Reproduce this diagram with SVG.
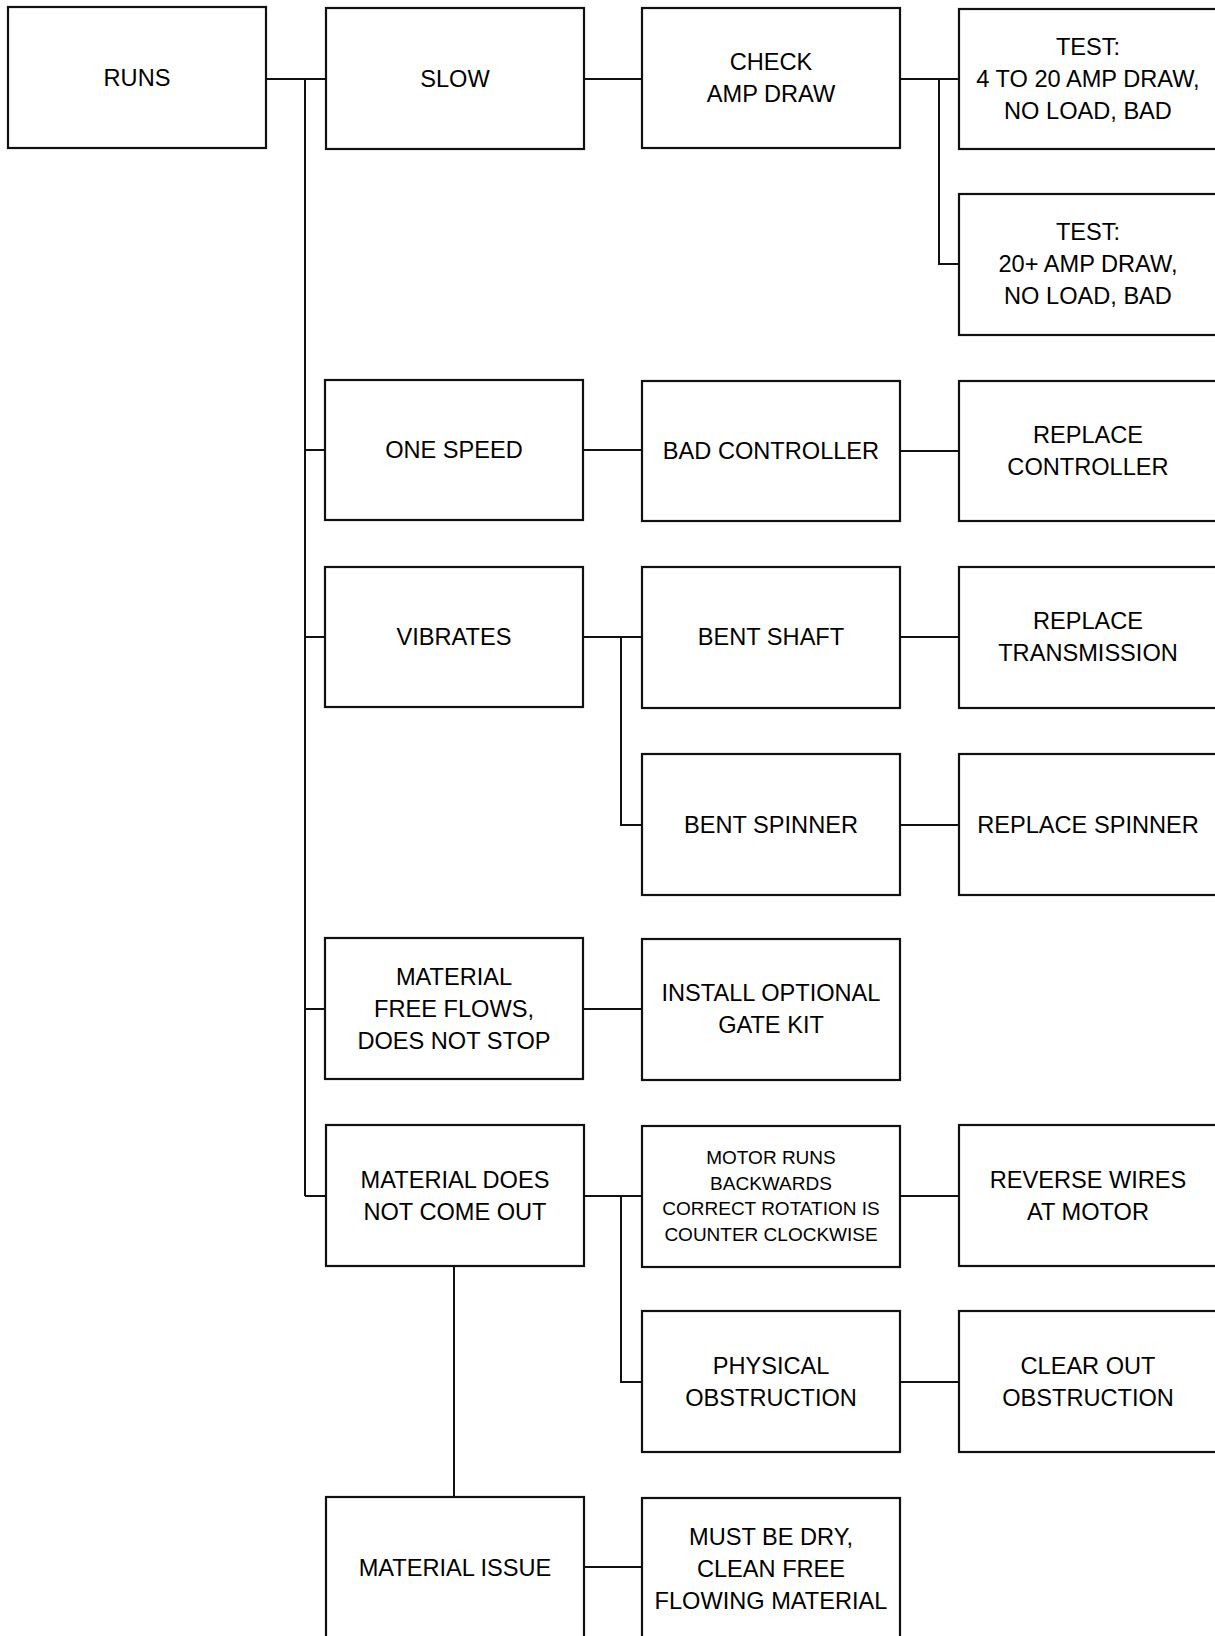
<svg xmlns="http://www.w3.org/2000/svg" width="1215" height="1636" viewBox="0 0 1215 1636">
<style>
.box{fill:#fff;stroke:#111;stroke-width:2.2}
.t{font-family:"Liberation Sans",Arial,sans-serif;font-size:23.6px;fill:#000;text-anchor:middle}
.s{font-family:"Liberation Sans",Arial,sans-serif;font-size:19px;fill:#000;text-anchor:middle}
.c{fill:none;stroke:#111;stroke-width:2}
</style>
<rect width="1215" height="1636" fill="#fff"/>
<g id="connectors">
<path class="c" d="M266 79H326M305 79V1196M305 450H325M305 637H325M305 1009H325M305 1196H326"/>
<path class="c" d="M583 79H642M900 79H959M939 79V264H959"/>
<path class="c" d="M583 450H642M900 451H959"/>
<path class="c" d="M583 637H642M621 637V825H642M900 637H959M900 825H959"/>
<path class="c" d="M583 1009H642"/>
<path class="c" d="M583 1196H642M621 1196V1382H642M900 1196H959M900 1382H959"/>
<path class="c" d="M454 1266V1497M583 1567H642"/>
</g>
<g id="runs"><rect class="box" x="8" y="7" width="258" height="141"/><text class="t" x="137" y="85.5">RUNS</text></g>
<g id="slow"><rect class="box" x="326" y="8" width="258" height="141"/><text class="t" x="455" y="86.5">SLOW</text></g>
<g id="check"><rect class="box" x="642" y="8" width="258" height="140"/><text class="t" x="771" y="70">CHECK</text><text class="t" x="771" y="102">AMP DRAW</text></g>
<g id="test1"><rect class="box" x="959" y="9" width="258" height="140"/><text class="t" x="1088" y="55">TEST:</text><text class="t" x="1088" y="87">4 TO 20 AMP DRAW,</text><text class="t" x="1088" y="119">NO LOAD, BAD</text></g>
<g id="test2"><rect class="box" x="959" y="194" width="258" height="141"/><text class="t" x="1088" y="240">TEST:</text><text class="t" x="1088" y="272">20+ AMP DRAW,</text><text class="t" x="1088" y="304">NO LOAD, BAD</text></g>
<g id="onespeed"><rect class="box" x="325" y="380" width="258" height="140"/><text class="t" x="454" y="458">ONE SPEED</text></g>
<g id="badcontroller"><rect class="box" x="642" y="381" width="258" height="140"/><text class="t" x="771" y="459">BAD CONTROLLER</text></g>
<g id="replacecontroller"><rect class="box" x="959" y="381" width="258" height="140"/><text class="t" x="1088" y="443">REPLACE</text><text class="t" x="1088" y="475">CONTROLLER</text></g>
<g id="vibrates"><rect class="box" x="325" y="567" width="258" height="140"/><text class="t" x="454" y="645">VIBRATES</text></g>
<g id="bentshaft"><rect class="box" x="642" y="567" width="258" height="141"/><text class="t" x="771" y="645">BENT SHAFT</text></g>
<g id="replacetransmission"><rect class="box" x="959" y="567" width="258" height="141"/><text class="t" x="1088" y="629">REPLACE</text><text class="t" x="1088" y="661">TRANSMISSION</text></g>
<g id="bentspinner"><rect class="box" x="642" y="754" width="258" height="141"/><text class="t" x="771" y="833">BENT SPINNER</text></g>
<g id="replacespinner"><rect class="box" x="959" y="754" width="258" height="141"/><text class="t" x="1088" y="833">REPLACE SPINNER</text></g>
<g id="freeflows"><rect class="box" x="325" y="938" width="258" height="141"/><text class="t" x="454" y="985">MATERIAL</text><text class="t" x="454" y="1017">FREE FLOWS,</text><text class="t" x="454" y="1049">DOES NOT STOP</text></g>
<g id="gatekit"><rect class="box" x="642" y="939" width="258" height="141"/><text class="t" x="771" y="1001">INSTALL OPTIONAL</text><text class="t" x="771" y="1033">GATE KIT</text></g>
<g id="doesnotcome"><rect class="box" x="326" y="1125" width="258" height="141"/><text class="t" x="455" y="1188">MATERIAL DOES</text><text class="t" x="455" y="1220">NOT COME OUT</text></g>
<g id="motorruns"><rect class="box" x="642" y="1126" width="258" height="141"/><text class="s" x="771" y="1164">MOTOR RUNS</text><text class="s" x="771" y="1190">BACKWARDS</text><text class="s" x="771" y="1215">CORRECT ROTATION IS</text><text class="s" x="771" y="1241">COUNTER CLOCKWISE</text></g>
<g id="reversewires"><rect class="box" x="959" y="1125" width="258" height="141"/><text class="t" x="1088" y="1188">REVERSE WIRES</text><text class="t" x="1088" y="1220">AT MOTOR</text></g>
<g id="physical"><rect class="box" x="642" y="1311" width="258" height="141"/><text class="t" x="771" y="1374">PHYSICAL</text><text class="t" x="771" y="1406">OBSTRUCTION</text></g>
<g id="clearout"><rect class="box" x="959" y="1311" width="258" height="141"/><text class="t" x="1088" y="1374">CLEAR OUT</text><text class="t" x="1088" y="1406">OBSTRUCTION</text></g>
<g id="materialissue"><rect class="box" x="326" y="1497" width="258" height="142"/><text class="t" x="455" y="1576">MATERIAL ISSUE</text></g>
<g id="mustbedry"><rect class="box" x="642" y="1498" width="258" height="141"/><text class="t" x="771" y="1545">MUST BE DRY,</text><text class="t" x="771" y="1577">CLEAN FREE</text><text class="t" x="771" y="1609">FLOWING MATERIAL</text></g>
</svg>
